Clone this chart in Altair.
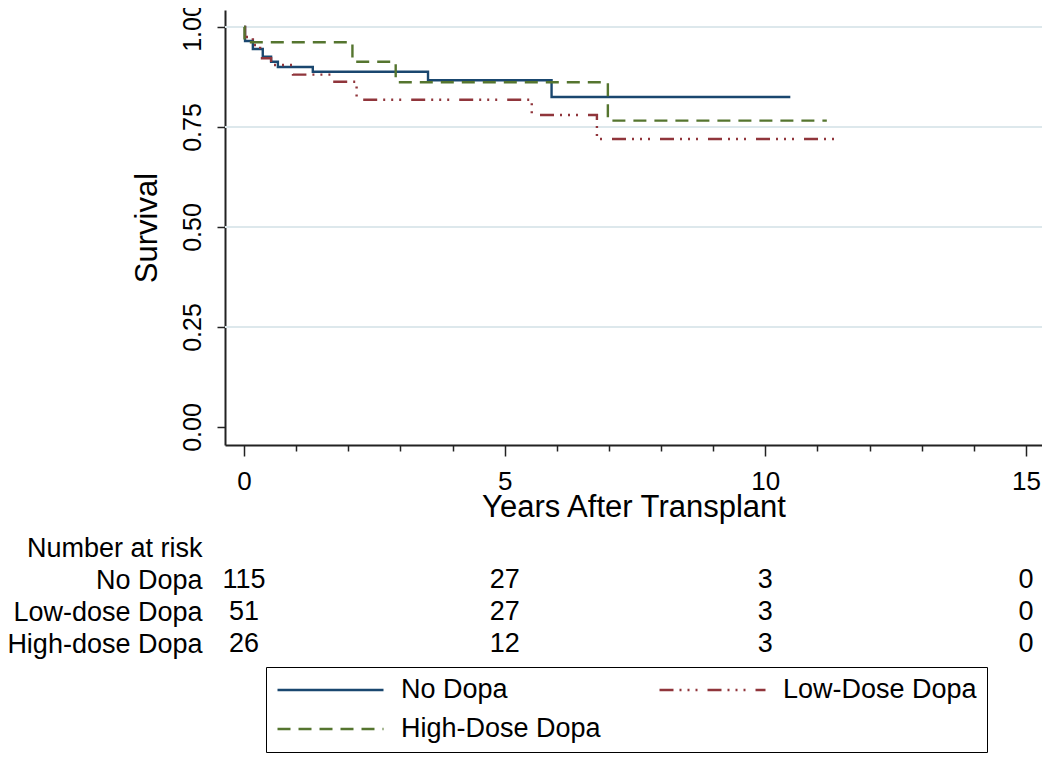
import altair as alt
import pandas as pd

FONT = "Liberation Sans"

# ---------------- data ----------------
groups = ["No Dopa", "Low-Dose Dopa", "High-Dose Dopa"]
colors = ["#1a476f", "#90353b", "#55752f"]
dashes = [[1, 0], [14, 6, 2, 6, 2, 6, 2, 10], [13, 8]]

no_dopa_t = [0, 0.02, 0.17, 0.36, 0.52, 0.65, 1.32, 3.53, 5.90, 10.48]
no_dopa_s = [1.0, 0.965, 0.945, 0.926, 0.913, 0.900, 0.888, 0.867, 0.825, 0.825]

low_t = [0, 0.02, 0.17, 0.31, 0.52, 0.94, 1.70, 2.16, 5.52, 6.77, 11.42]
low_s = [1.0, 0.975, 0.955, 0.922, 0.905, 0.881, 0.863, 0.818, 0.780, 0.720, 0.720]

high_t = [0, 0.01, 2.08, 2.91, 6.98, 11.18]
high_s = [1.0, 0.962, 0.913, 0.862, 0.766, 0.766]

y_ticks = [0, 0.25, 0.5, 0.75, 1.0]
grid_vals = [0.25, 0.5, 0.75, 1.0]
x_ticks = list(range(16))

risk_header = "Number at risk"
risk_rows = ["No Dopa", "Low-dose Dopa", "High-dose Dopa"]
risk_times = [0, 5, 10, 15]
risk_no = [115, 27, 3, 0]
risk_low = [51, 27, 3, 0]
risk_high = [26, 12, 3, 0]

# ---------------- tables ----------------
km_rows = []
for g, ts, ss in zip(groups, [no_dopa_t, low_t, high_t], [no_dopa_s, low_s, high_s]):
    for t, s in zip(ts, ss):
        km_rows.append({"group": g, "time": t, "surv": s})
km_df = pd.DataFrame(km_rows)

risk_list = []
for r, vals in zip(risk_rows, [risk_no, risk_low, risk_high]):
    for t, n in zip(risk_times, vals):
        risk_list.append({"row": r, "time": t, "n": n})
risk_df = pd.DataFrame(risk_list)

grid_df = pd.DataFrame({"surv": grid_vals})

# ---------------- scales / axes ----------------
xscale = alt.Scale(domain=[-0.3645, 15.308], nice=False, zero=False)
yscale = alt.Scale(domain=[-0.045, 1.0425], nice=False, zero=False)

x_axis = alt.Axis(
    values=x_ticks,
    labelExpr="datum.value % 5 === 0 ? datum.label : ''",
    tickSize={"condition": {"test": "datum.value % 5 === 0", "value": 11}, "value": 6},
    tickWidth=1.5,
    tickColor="#222222",
    domainColor="#222222",
    domainWidth=2,
    labelFontSize=26,
    labelPadding=12,
    labelFlush=False,
    labelColor="black",
    grid=False,
    title="Years After Transplant",
    titleFontSize=31,
    titleFontWeight="normal",
    titleColor="black",
    titlePadding=-2,
)

y_axis = alt.Axis(
    values=y_ticks,
    format=".2f",
    labelAngle=270,
    labelAlign="center",
    labelBaseline="alphabetic",
    labelFontSize=25,
    labelPadding=17,
    labelColor="black",
    tickSize=8,
    tickWidth=1.5,
    tickColor="#222222",
    domainColor="#222222",
    domainWidth=2,
    grid=False,
    title="Survival",
    titleFontSize=31,
    titleFontWeight="normal",
    titleColor="black",
    titleBaseline="alphabetic",
    titlePadding=24,
)

legend = alt.Legend(
    title=None,
    orient="none",
    direction="horizontal",
    legendX=41,
    legendY=657,
    columns=2,
    symbolType="stroke",
    symbolSize=11236,
    symbolStrokeWidth=2.5,
    labelFontSize=27,
    labelFont=FONT,
    labelColor="black",
    labelLimit=400,
    labelOffset=16,
    clipHeight=26,
    rowPadding=12,
    columnPadding=57,
    padding=10,
    strokeColor="black",
    fillColor="white",
)

# ---------------- layers ----------------
grid = alt.Chart(grid_df).mark_rule(color="#dde8ec", strokeWidth=2).encode(
    y=alt.Y("surv:Q", scale=yscale, axis=y_axis)
)

lines = alt.Chart(km_df).mark_line(interpolate="step-after", strokeWidth=2.4).encode(
    x=alt.X("time:Q", scale=xscale, axis=x_axis),
    y=alt.Y("surv:Q", scale=yscale, axis=y_axis),
    color=alt.Color("group:N", scale=alt.Scale(domain=groups, range=colors), legend=legend),
    strokeDash=alt.StrokeDash("group:N", scale=alt.Scale(domain=groups, range=dashes), legend=legend),
)

km = alt.layer(grid, lines)

table = alt.Chart(risk_df).mark_text(fontSize=27, font=FONT, color="black").encode(
    x=alt.X("time:Q", scale=xscale, axis=x_axis),
    y=alt.Y(
        "row:N",
        scale=alt.Scale(type="point", domain=[risk_header] + risk_rows, range=[538, 634], padding=0),
        axis=alt.Axis(
            orient="left",
            ticks=False,
            domain=False,
            grid=False,
            title=None,
            labelFontSize=27,
            labelFont=FONT,
            labelColor="black",
            labelLimit=400,
            labelPadding=23,
            labelAlign="right",
            labelBaseline="middle",
        ),
    ),
    text=alt.Text("n:Q", format="d"),
)

chart = (
    alt.layer(km, table)
    .resolve_scale(y="independent")
    .properties(
        width=817,
        height=435,
        autosize=alt.AutoSizeParams(type="none"),
        padding={"left": 217, "top": 2, "right": 0, "bottom": 309},
    )
    .configure_view(stroke=None)
    .configure_axis(labelFont=FONT, titleFont=FONT)
    .configure_legend(labelFont=FONT)
)

chart.save("out.html", embed_options={"renderer": "svg", "actions": False})
